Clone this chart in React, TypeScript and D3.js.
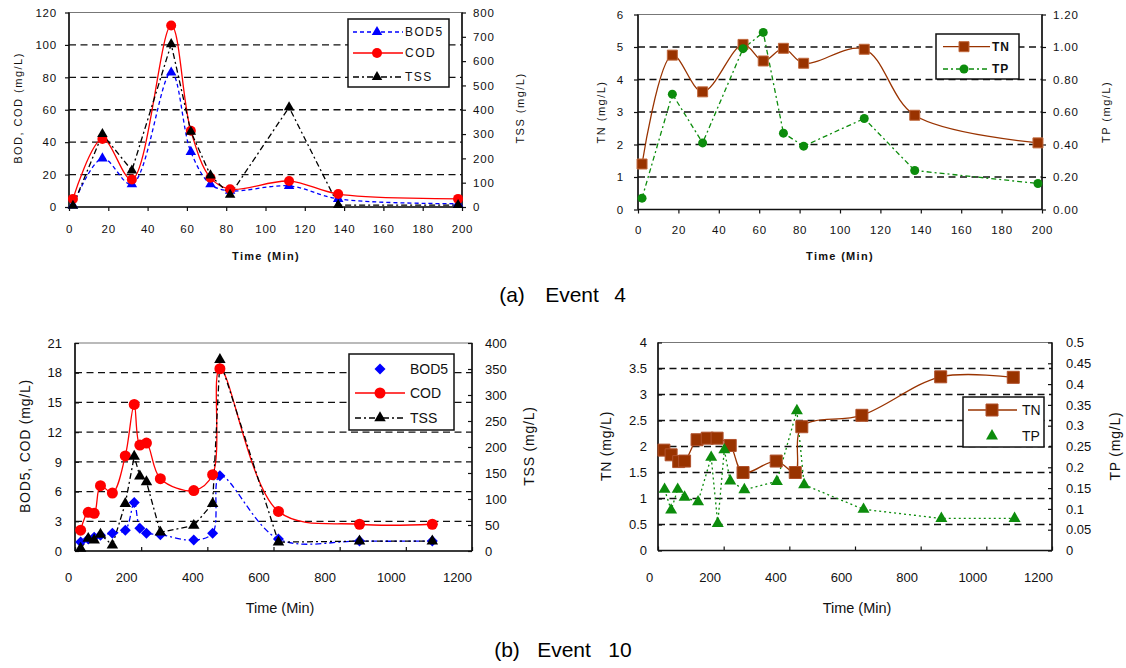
import React, { useRef, useEffect } from "react";
import * as d3 from "d3";

// ---- Event 4 (time in min) ----
const e4Time = [2, 17, 32, 52, 62, 72, 82, 112, 137, 198];
const e4BOD5 = [1, 30, 14, 83, 34, 14, 10, 13, 5, 2];
const e4COD = [5, 42, 17, 112, 47, 18, 11, 16, 8, 5];
const e4TSS = [5, 300, 150, 670, 310, 130, 50, 410, 8, 8];
const e4TN = [1.4, 4.75, 3.62, 5.08, 4.57, 4.96, 4.5, 4.93, 2.9, 2.05];
const e4TP = [0.07, 0.71, 0.41, 0.99, 1.09, 0.47, 0.39, 0.56, 0.24, 0.16];

// ---- Event 10 (time in min) ----
const e10Time = [17, 40, 58, 77, 113, 152, 179, 196, 216, 258, 359, 416, 438, 615, 860, 1080];
const e10BOD5 = [0.9, 1.2, 1.4, 1.6, 1.8, 2.1, 4.9, 2.3, 1.8, 1.65, 1.1, 1.8, 7.6, 1.2, 1.0, 1.0];
const e10COD = [2.1, 3.9, 3.8, 6.6, 5.85, 9.6, 14.8, 10.7, 10.9, 7.3, 6.1, 7.7, 18.4, 4.0, 2.7, 2.7];
const e10TSS = [5, 24, 21, 32, 11, 91, 182, 144, 133, 36, 49, 91, 368, 17, 19, 19];
const e10TNTime = [18, 40, 63, 81, 119, 150, 180, 220, 259, 360, 418, 438, 621, 861, 1082];
const e10TN = [1.93, 1.84, 1.71, 1.72, 2.13, 2.16, 2.16, 2.02, 1.5, 1.72, 1.5, 2.38, 2.6, 3.34, 3.33];
const e10TPTime = [20, 40, 60, 81, 122, 162, 182, 202, 220, 263, 362, 423, 445, 626, 863, 1086];
const e10TP = [0.147, 0.097, 0.147, 0.128, 0.117, 0.224, 0.065, 0.242, 0.167, 0.146, 0.166, 0.336, 0.158, 0.099, 0.077, 0.077];

// caption words: label, "Event", number
const captionA = ["(a)", "Event", "4"];
const captionB = ["(b)", "Event", "10"];

const BLUE = "#0000ff";
const RED = "#ff0000";
const BLACK = "#000000";
const BROWN = "#993300";
const GREEN = "#0c8c0c";

const fInt = (v) => String(v);
const f2 = (v) => v.toFixed(2);
const fShort = (v) => String(+v.toFixed(2));

const topFonts = { tick: 11.5, tickLs: 0.8, title: 11, titleLs: 1.5, xTitle: 11, xTitleWeight: "bold", xTitleLs: 1.3 };
const botFonts = { tick: 13, tickLs: 0, title: 14, titleLs: 0.8, xTitle: 14.5, xTitleWeight: "normal", xTitleLs: 0 };

const panels = [
  {
    box: { left: 69, right: 462, top: 12.5, bottom: 207 },
    xMax: 200, xStep: 20, yLMax: 120, yLStep: 20, yRMax: 800, yRStep: 100,
    fmtL: fInt, fmtR: fInt, grid: [20, 40, 60, 80, 100],
    tickDir: 1, labelDx: [0, 0], xLabelTop: 18, gapL: 12, gapR: 11,
    fonts: topFonts,
    leftTitle: { text: "BOD, COD (mg/L)", x: 18.5, y: 108 },
    rightTitle: { text: "TSS (mg/L)", x: 520, y: 108 },
    xTitle: { text: "Time (Min)", x: 266, y: 256 },
    series: [
      { name: "BOD5", x: e4Time, y: e4BOD5, axis: "L", color: BLUE, marker: "triangle", w: 10.5, dash: "4,3", smooth: true, legendLine: true },
      { name: "COD", x: e4Time, y: e4COD, axis: "L", color: RED, marker: "circle", w: 10, dash: null, smooth: true, legendLine: true },
      { name: "TSS", x: e4Time, y: e4TSS, axis: "R", color: BLACK, marker: "triangle", w: 10.5, dash: "6,3,2,3", smooth: false, legendLine: true },
    ],
    legend: { x1: 348, y1: 19, x2: 449, y2: 87, ys: [32, 53, 77], lx1: 353, lx2: 403, mx: 377, tx: 405, font: 12, ls: 1.5, weight: "normal" },
  },
  {
    box: { left: 638, right: 1042, top: 14.5, bottom: 209.5 },
    xMax: 200, xStep: 20, yLMax: 6, yLStep: 1, yRMax: 1.2, yRStep: 0.2,
    fmtL: fInt, fmtR: f2, grid: [1, 2, 3, 4, 5],
    tickDir: 1, labelDx: [0, 0], xLabelTop: 16.5, gapL: 14, gapR: 11,
    fonts: topFonts,
    leftTitle: { text: "TN (mg/L)", x: 601.5, y: 112 },
    rightTitle: { text: "TP (mg/L)", x: 1106.5, y: 112 },
    xTitle: { text: "Time (Min)", x: 840, y: 256 },
    series: [
      { name: "TN", x: e4Time, y: e4TN, axis: "L", color: BROWN, stroke: "#c0683c", marker: "square", w: 10, dash: null, smooth: true, legendLine: true },
      { name: "TP", x: e4Time, y: e4TP, axis: "R", color: GREEN, marker: "circle", w: 9, dash: "5,3,2,3", smooth: false, legendLine: true },
    ],
    legend: { x1: 936, y1: 34, x2: 1019, y2: 79, ys: [46.7, 69], lx1: 943, lx2: 990, mx: 964, tx: 992, font: 12, ls: 1, weight: "bold" },
  },
  {
    box: { left: 75, right: 472, top: 343, bottom: 551 },
    xMax: 1200, xStep: 200, yLMax: 21, yLStep: 3, yRMax: 400, yRStep: 50,
    fmtL: fInt, fmtR: fInt, grid: [3, 6, 9, 12, 15, 18],
    tickDir: -1, labelDx: [-7, -15], xLabelTop: 21.5, gapL: 13, gapR: 13,
    fonts: botFonts,
    leftTitle: { text: "BOD5, COD (mg/L)", x: 25, y: 446 },
    rightTitle: { text: "TSS (mg/L)", x: 529, y: 446 },
    xTitle: { text: "Time (Min)", x: 280, y: 608 },
    series: [
      { name: "BOD5", x: e10Time, y: e10BOD5, axis: "L", color: BLUE, marker: "diamond", w: 11, dash: "6,3,2,3", smooth: true, legendLine: false },
      { name: "COD", x: e10Time, y: e10COD, axis: "L", color: RED, marker: "circle", w: 11, dash: null, smooth: true, legendLine: true },
      { name: "TSS", x: e10Time, y: e10TSS, axis: "R", color: BLACK, marker: "triangle", w: 11.5, dash: "6,3,2,3", smooth: false, legendLine: true },
    ],
    legend: { x1: 349, y1: 354, x2: 454, y2: 430, ys: [369, 393, 418], lx1: 355, lx2: 405, mx: 380, tx: 410, font: 14, ls: 0, weight: "normal" },
  },
  {
    box: { left: 658, right: 1052, top: 342.5, bottom: 550.5 },
    xMax: 1200, xStep: 200, yLMax: 4, yLStep: 0.5, yRMax: 0.5, yRStep: 0.05,
    fmtL: fShort, fmtR: fShort, grid: [0.5, 1, 1.5, 2, 2.5, 3, 3.5],
    tickDir: -1, labelDx: [-9, -14], xLabelTop: 22, gapL: 11, gapR: 14,
    fonts: botFonts,
    leftTitle: { text: "TN (mg/L)", x: 606.5, y: 446 },
    rightTitle: { text: "TP (mg/L)", x: 1115, y: 446 },
    xTitle: { text: "Time (Min)", x: 857, y: 608 },
    series: [
      { name: "TN", x: e10TNTime, y: e10TN, axis: "L", color: BROWN, stroke: "#b0502a", marker: "square", w: 12, dash: null, smooth: true, legendLine: true },
      { name: "TP", x: e10TPTime, y: e10TP, axis: "R", color: GREEN, marker: "triangle", w: 12, dash: "2,3", smooth: false, legendLine: false },
    ],
    legend: { x1: 963, y1: 397, x2: 1044, y2: 447, ys: [410, 436], lx1: 968, lx2: 1017, mx: 992, tx: 1022, font: 14, ls: 0, weight: "normal" },
  },
];

const FONT = "'Liberation Sans', Arial, sans-serif";

const symbolPath = (marker, w) => {
  if (marker === "triangle") return d3.symbol().type(d3.symbolTriangle).size(0.433 * w * w)();
  if (marker === "circle") return d3.symbol().type(d3.symbolCircle).size((Math.PI / 4) * w * w)();
  if (marker === "square") return d3.symbol().type(d3.symbolSquare).size(w * w)();
  return d3.symbol().type(d3.symbolSquare).size((w * w) / 2)();
};

const drawMarker = (g, s, cx, cy) => {
  g.append("path")
    .attr("d", symbolPath(s.marker, s.w))
    .attr("transform", `translate(${cx},${cy})${s.marker === "diamond" ? " rotate(45)" : ""}`)
    .attr("fill", s.color)
    .attr("stroke", s.stroke || "none")
    .attr("stroke-width", 1);
};

function drawPanel(svg, p) {
  const { left, right, top, bottom } = p.box;
  const f = p.fonts;
  const g = svg.append("g");

  const x = d3.scaleLinear().domain([0, p.xMax]).range([left, right]);
  const yL = d3.scaleLinear().domain([0, p.yLMax]).range([bottom, top]);
  const yR = d3.scaleLinear().domain([0, p.yRMax]).range([bottom, top]);
  const ticks = (max, step) => d3.range(0, max + step / 2, step).map((v) => +v.toFixed(4));

  // frame
  g.append("rect")
    .attr("x", left).attr("y", top)
    .attr("width", right - left).attr("height", bottom - top)
    .attr("fill", "white").attr("stroke", "#777").attr("stroke-width", 1);

  // dashed gridlines
  g.selectAll(".grid")
    .data(p.grid)
    .enter()
    .append("line")
    .attr("x1", left).attr("x2", right)
    .attr("y1", (d) => yL(d)).attr("y2", (d) => yL(d))
    .attr("stroke", "#111").attr("stroke-width", 1.3)
    .attr("stroke-dasharray", "7,4.5");

  const tickLen = 4 * p.tickDir;
  const styleAxis = (ax) => {
    ax.select(".domain").remove();
    ax.selectAll("line").attr("stroke", "#111").attr("stroke-width", 1.2);
    ax.selectAll("text")
      .attr("font-family", FONT)
      .attr("font-size", f.tick)
      .attr("letter-spacing", f.tickLs)
      .attr("fill", "#111");
  };

  const ax = g.append("g").attr("transform", `translate(0,${bottom})`)
    .call(d3.axisBottom(x).tickValues(ticks(p.xMax, p.xStep)).tickSizeInner(tickLen).tickSizeOuter(0)
      .tickPadding(p.xLabelTop - Math.max(tickLen, 0)).tickFormat(fInt));
  styleAxis(ax);
  // the tick labels of the source sit a little left of their ticks
  ax.selectAll("text").attr("x", (d, i) => (i === 0 ? p.labelDx[0] : p.labelDx[1]));

  const ayl = g.append("g").attr("transform", `translate(${left},0)`)
    .call(d3.axisLeft(yL).tickValues(ticks(p.yLMax, p.yLStep)).tickSizeInner(tickLen).tickSizeOuter(0)
      .tickPadding(p.gapL - Math.max(tickLen, 0)).tickFormat(p.fmtL));
  styleAxis(ayl);

  const ayr = g.append("g").attr("transform", `translate(${right},0)`)
    .call(d3.axisRight(yR).tickValues(ticks(p.yRMax, p.yRStep)).tickSizeInner(tickLen).tickSizeOuter(0)
      .tickPadding(p.gapR - Math.max(tickLen, 0)).tickFormat(p.fmtR));
  styleAxis(ayr);

  // axis lines
  [[left, top, left, bottom], [left, bottom, right, bottom], [right, top, right, bottom]].forEach(([a, b, c, d]) =>
    g.append("line").attr("x1", a).attr("y1", b).attr("x2", c).attr("y2", d)
      .attr("stroke", "#111").attr("stroke-width", 1.6));

  // series lines
  p.series.forEach((s) => {
    const ys = s.axis === "L" ? yL : yR;
    const line = d3.line()
      .x((d) => x(d[0]))
      .y((d) => ys(d[1]))
      .curve(s.smooth ? d3.curveCatmullRom.alpha(0.5) : d3.curveLinear);
    g.append("path")
      .datum(s.x.map((t, i) => [t, s.y[i]]))
      .attr("d", line)
      .attr("fill", "none")
      .attr("stroke", s.color)
      .attr("stroke-width", 1.3)
      .attr("stroke-dasharray", s.dash || null);
  });
  // markers on top
  p.series.forEach((s) => {
    const ys = s.axis === "L" ? yL : yR;
    s.x.forEach((t, i) => drawMarker(g, s, x(t), ys(s.y[i])));
  });

  // titles
  const title = (t, rotate, size, ls, weight) => {
    g.append("text")
      .attr("transform", `translate(${t.x},${t.y})${rotate ? " rotate(-90)" : ""}`)
      .attr("text-anchor", "middle")
      .attr("dy", "0.35em")
      .attr("font-family", FONT)
      .attr("font-size", size)
      .attr("font-weight", weight)
      .attr("letter-spacing", ls)
      .attr("fill", "#111")
      .text(t.text);
  };
  title(p.leftTitle, true, f.title, f.titleLs, "normal");
  title(p.rightTitle, true, f.title, f.titleLs, "normal");
  title(p.xTitle, false, f.xTitle, f.xTitleLs, f.xTitleWeight);

  // legend
  const L = p.legend;
  g.append("rect")
    .attr("x", L.x1).attr("y", L.y1)
    .attr("width", L.x2 - L.x1).attr("height", L.y2 - L.y1)
    .attr("fill", "white").attr("stroke", "#111").attr("stroke-width", 1.5);
  p.series.forEach((s, i) => {
    const ly = L.ys[i];
    if (s.legendLine) {
      g.append("line")
        .attr("x1", L.lx1).attr("x2", L.lx2).attr("y1", ly).attr("y2", ly)
        .attr("stroke", s.color).attr("stroke-width", 1.3)
        .attr("stroke-dasharray", s.dash || null);
    }
    drawMarker(g, s, L.mx, ly);
    g.append("text")
      .attr("x", L.tx).attr("y", ly).attr("dy", "0.35em")
      .attr("font-family", FONT)
      .attr("font-size", L.font)
      .attr("font-weight", L.weight)
      .attr("letter-spacing", L.ls)
      .attr("fill", "#111")
      .text(s.name);
  });
}

const App = () => {
  const svgRef = useRef(null);
  useEffect(() => {
    const svg = d3.select(svgRef.current);
    svg.selectAll("*").remove();
    svg.append("rect").attr("width", 1126).attr("height", 668).attr("fill", "white");

    panels.forEach((p) => drawPanel(svg, p));

    // captions, one word at a time (wide word gaps in the source)
    const caps = [
      { words: captionA, xs: [512, 572, 620], y: 302 },
      { words: captionB, xs: [507, 564, 620], y: 657 },
    ];
    caps.forEach((c) => {
      c.words.forEach((w, i) => {
        svg.append("text")
          .attr("x", c.xs[i]).attr("y", c.y)
          .attr("text-anchor", "middle")
          .attr("font-family", FONT)
          .attr("font-size", 21)
          .attr("fill", "#000")
          .text(w);
      });
    });
  }, []);

  return (
    <svg
      ref={svgRef}
      width={1126}
      height={668}
      style={{ position: "absolute", left: 0, top: 0, display: "block" }}
    ></svg>
  );
};

export default App;
